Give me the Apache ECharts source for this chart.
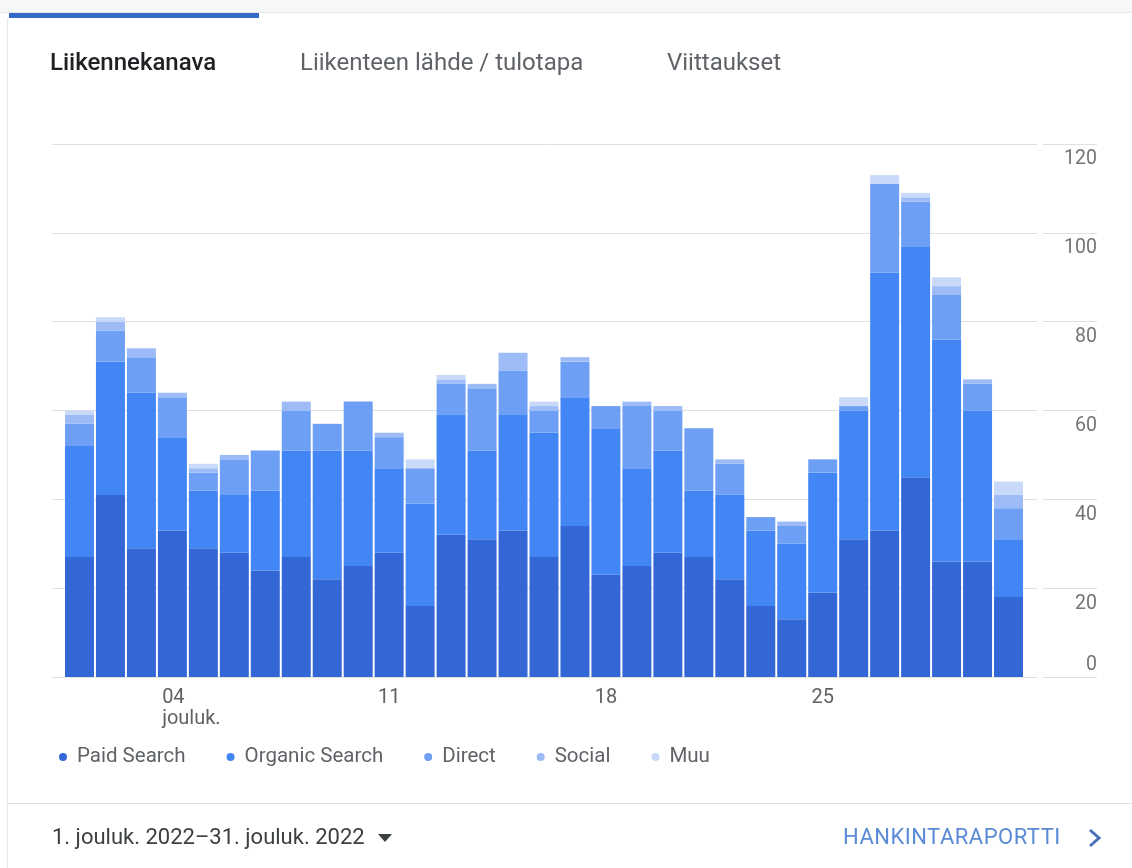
<!DOCTYPE html>
<html>
<head>
<meta charset="utf-8">
<script src="https://cdn.jsdelivr.net/npm/echarts@6/dist/echarts.min.js"></script>
<style>
  html, body { margin: 0; padding: 0; background: #ffffff; }
  body { width: 1132px; height: 868px; overflow: hidden; position: relative; font-family: Roboto, "Noto Sans", Arial, sans-serif; }
  #chart { position: absolute; left: 0; top: 0; width: 1132px; height: 868px; }
  .strip { position: absolute; left: 0; top: 0; width: 1132px; height: 12px; background: #f6f7f9; border-bottom: 1px solid #e3e5e8; }
  .tabline { position: absolute; left: 9px; top: 13px; width: 250px; height: 5px; background: #3569c9; }
  .cardedge { position: absolute; left: 7px; top: 18px; width: 1px; height: 850px; background: #e6e7e9; }
  .tab { position: absolute; top: 47px; height: 30px; line-height: 30px; font-size: 24px; color: #5f6368; white-space: nowrap; }
  .tab.active { color: #202124; font-weight: 500; }
  .divider { position: absolute; left: 8px; top: 803px; width: 1124px; height: 1px; background: #e0e0e0; }
  .foot { position: absolute; top: 823px; height: 28px; line-height: 28px; font-size: 22px; white-space: nowrap; }
  .date { left: 52px; color: #3c4043; }
  .caret { position: absolute; left: 378px; top: 834px; width: 0; height: 0; border-left: 7px solid transparent; border-right: 7px solid transparent; border-top: 8px solid #3c4043; }
  .report { left: 843px; color: #5b8ad6; letter-spacing: 0.5px; }
  .chev { position: absolute; left: 1086px; top: 827px; }
</style>
</head>
<body>
<div id="chart"></div>
<div class="strip"></div>
<div class="tabline"></div>
<div class="cardedge"></div>
<div class="tab active" style="left:50px">Liikennekanava</div>
<div class="tab" style="left:300px">Liikenteen lähde / tulotapa</div>
<div class="tab" style="left:667px">Viittaukset</div>
<div class="divider"></div>
<div class="foot date">1. jouluk. 2022–31. jouluk. 2022</div>
<div class="caret"></div>
<div class="foot report">HANKINTARAPORTTI</div>
<svg class="chev" width="18" height="22" viewBox="0 0 18 22"><polyline points="4,3 13,11 4,19" fill="none" stroke="#4a72b8" stroke-width="3"/></svg>
<script>
// ---- data ----
const days = [1,2,3,4,5,6,7,8,9,10,11,12,13,14,15,16,17,18,19,20,21,22,23,24,25,26,27,28,29,30,31];
const seriesNames = ['Paid Search', 'Organic Search', 'Direct', 'Social', 'Muu'];
const paidSearch    = [27,41,29,33,29,28,24,27,22,25,28,16,32,31,33,27,34,23,25,28,27,22,16,13,19,31,33,45,26,26,18];
const organicSearch = [25,30,35,21,13,13,18,24,29,26,19,23,27,20,26,28,29,33,22,23,15,19,17,17,27,29,58,52,50,34,13];
const direct        = [ 5, 7, 8, 9, 4, 8, 9, 9, 6,11, 7, 8, 7,14,10, 5, 8, 5,14, 9,14, 7, 3, 4, 3, 1,20,10,10, 6, 7];
const social        = [ 2, 2, 2, 1, 1, 1, 0, 2, 0, 0, 1, 0, 1, 1, 4, 1, 1, 0, 1, 1, 0, 1, 0, 1, 0, 0, 0, 1, 2, 1, 3];
const muu           = [ 1, 1, 0, 0, 1, 0, 0, 0, 0, 0, 0, 2, 1, 0, 0, 1, 0, 0, 0, 0, 0, 0, 0, 0, 0, 2, 2, 1, 2, 0, 3];
const xTickDays   = [4, 11, 18, 25];
const xTickLabels = ['04', '11', '18', '25'];
const monthLabel  = 'jouluk.';
const yTicks = [0, 20, 40, 60, 80, 100, 120];

const seriesValues = [paidSearch, organicSearch, direct, social, muu];
const colors = ['#3367d6', '#4285f4', '#6d9ff5', '#9dbcf7', '#c8d9fa'];

const chart = echarts.init(document.getElementById('chart'), null, { renderer: 'canvas' });
const font = 'Roboto, "Noto Sans", Arial, sans-serif';

const yBase = { type: 'value', min: yTicks[0], max: yTicks[yTicks.length - 1], interval: 20,
  axisLine: { show: false }, axisTick: { show: false } };

const option = {
  animation: false,
  color: colors,
  textStyle: { fontFamily: font },
  grid: [
    { left: 64, right: 108, top: 144, bottom: 191 },   // bars
    { left: 52, right: 95, top: 144, bottom: 191 },    // grid lines
    { left: 1043, right: 35, top: 144, bottom: 191 }   // short lines under labels
  ],
  legend: {
    data: seriesNames,
    left: 54,
    top: 740,
    icon: 'circle',
    itemWidth: 18,
    itemHeight: 8,
    itemGap: 41,
    selectedMode: false,
    textStyle: { fontSize: 20.5, lineHeight: 24, color: '#5f6368', fontFamily: font }
  },
  xAxis: [
    {
      type: 'category',
      gridIndex: 0,
      data: days,
      boundaryGap: true,
      splitLine: { show: false },
      axisLine: { show: false },
      axisTick: { show: false },
      axisLabel: {
        interval: function (idx, val) { return xTickDays.indexOf(Number(val)) >= 0; },
        margin: 10,
        fontSize: 20,
        lineHeight: 21,
        color: '#616161',
        fontFamily: font,
        formatter: function (v) {
          const i = xTickDays.indexOf(Number(v));
          const lab = i >= 0 ? xTickLabels[i] : '';
          if (i === 0) return '{l|' + lab + '}\n{l|' + monthLabel + '}';
          return lab;
        },
        rich: {
          l: { align: 'left', padding: [0, 0, 0, 38], fontSize: 20, lineHeight: 21, color: '#616161', fontFamily: font }
        }
      }
    },
    { type: 'value', gridIndex: 1, min: 0, max: 1, show: false },
    { type: 'value', gridIndex: 2, min: 0, max: 1, show: false }
  ],
  yAxis: [
    Object.assign({}, yBase, { gridIndex: 0, position: 'right', splitLine: { show: false }, axisLabel: { show: false } }),
    Object.assign({}, yBase, { gridIndex: 1, axisLabel: { show: false },
      splitLine: { lineStyle: { color: '#e0e0e0', width: 1 } } }),
    Object.assign({}, yBase, {
      gridIndex: 2,
      position: 'right',
      splitLine: { lineStyle: { color: '#e0e0e0', width: 1 } },
      axisLabel: {
        align: 'right',
        margin: 0,
        fontSize: 19.5,
        color: '#757575',
        fontFamily: font,
        formatter: function (v) {
          return v === yTicks[0] ? '{b|' + v + '}' : '{t|' + v + '}';
        },
        rich: {
          t: { padding: [31, 0, 0, 0], fontSize: 19.5, color: '#757575', fontFamily: font },
          b: { padding: [0, 0, 24, 0], fontSize: 19.5, color: '#757575', fontFamily: font }
        }
      }
    })
  ],
  series: seriesValues.map(function (vals, k) {
    return {
      name: seriesNames[k],
      type: 'bar',
      stack: 'total',
      xAxisIndex: 0,
      yAxisIndex: 0,
      barWidth: 29,
      itemStyle: { color: colors[k] },
      emphasis: { disabled: true },
      data: vals
    };
  })
};
chart.setOption(option);
</script>
</body>
</html>
